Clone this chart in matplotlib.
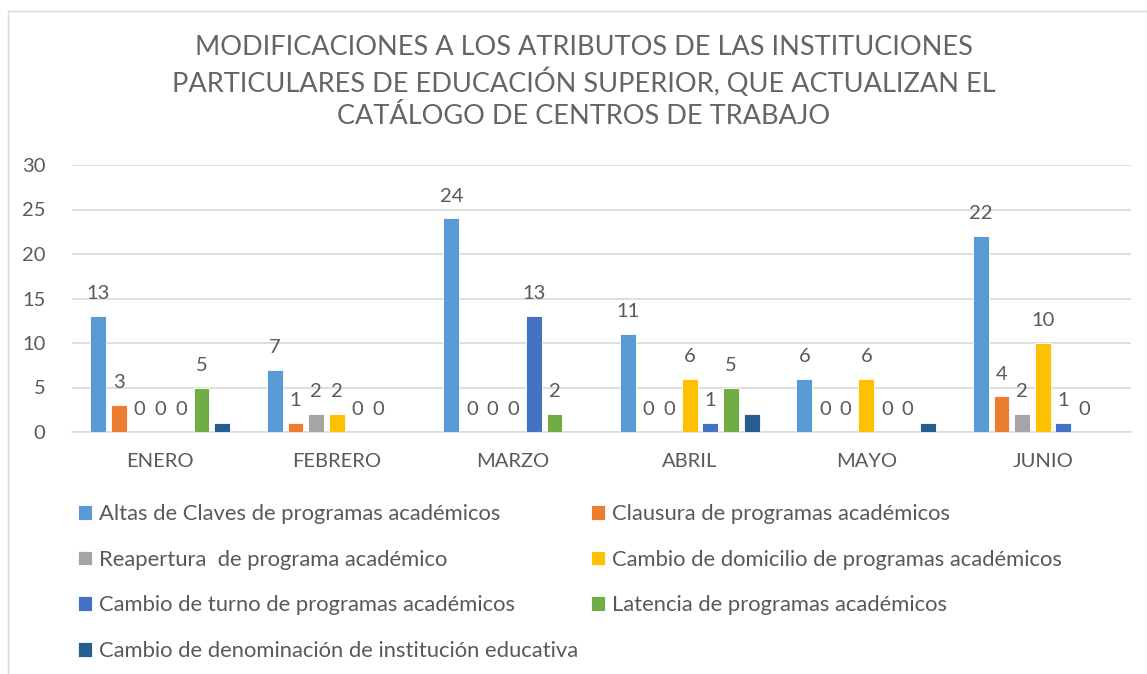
import matplotlib
matplotlib.use("Agg")
import matplotlib.pyplot as plt
import numpy as np
from matplotlib.patches import Rectangle

months = ["ENERO", "FEBRERO", "MARZO", "ABRIL", "MAYO", "JUNIO"]
series_names = [
    "Altas de Claves de programas académicos",
    "Clausura de programas académicos",
    "Reapertura  de programa académico",
    "Cambio de domicilio de programas académicos",
    "Cambio de turno de programas académicos",
    "Latencia de programas académicos",
    "Cambio de denominación de institución educativa",
]
altas = [13, 7, 24, 11, 6, 22]
clausura = [3, 1, 0, 0, 0, 4]
reapertura = [0, 2, 0, 0, 0, 2]
domicilio = [0, 2, 0, 6, 6, 10]
turno = [0, 0, 13, 1, 0, 1]
latencia = [5, 0, 2, 5, 0, 0]
denominacion = [1, 0, 0, 2, 1, 0]
values = [altas, clausura, reapertura, domicilio, turno, latencia, denominacion]
labeled = [True, True, True, True, True, True, False]
colors = ["#5B9BD5", "#ED7D31", "#A5A5A5", "#FFC000", "#4472C4", "#70AD47", "#255E91"]
yticks = [0, 5, 10, 15, 20, 25, 30]

TXT = "#595959"
FONT = "Lato"
plt.rcParams["font.family"] = [FONT, "DejaVu Sans"]

W, H = 1147, 674
fig = plt.figure(figsize=(W / 100, H / 100), dpi=100)

# chart border
fig.add_artist(Rectangle((8 / W, -0.05), 1.2, 1 - 11 / H + 0.05, transform=fig.transFigure,
                         fill=False, edgecolor="#D9D9D9", linewidth=1))

ax = fig.add_axes([72 / W, 1 - 432 / H, (1131 - 72) / W, (432 - 165) / H])
x = np.arange(len(months))
pitch = 0.117
bw = 0.09
handles = []
for j, (vals, col) in enumerate(zip(values, colors)):
    bars = ax.bar(x + (j - 3) * pitch, vals, width=bw, color=col, edgecolor="white",
                  linewidth=0.6, zorder=3, label=series_names[j])
    handles.append(bars)
    if labeled[j]:
        ax.bar_label(bars, padding=10, fontsize=14.5, color=TXT)

ax.set_xlim(-0.5, len(months) - 0.5)
ax.set_ylim(0, 30)
ax.set_yticks(yticks)
ax.set_xticks(x)
ax.set_xticklabels(months, fontsize=14.5, color=TXT)
ax.tick_params(axis="both", length=0, labelsize=14.5, labelcolor=TXT)
ax.tick_params(axis="y", pad=19)
ax.tick_params(axis="x", pad=15)
ax.grid(axis="y", color="#D9D9D9", linewidth=1.2, zorder=0)
for s in ["top", "right", "left"]:
    ax.spines[s].set_visible(False)
ax.spines["bottom"].set_color("#D9D9D9")
ax.spines["bottom"].set_linewidth(1.2)

fig.text(584 / W, 1 - 82 / H,
         "MODIFICACIONES A LOS ATRIBUTOS DE LAS INSTITUCIONES\n"
         "PARTICULARES DE EDUCACIÓN SUPERIOR, QUE ACTUALIZAN EL\n"
         "CATÁLOGO DE CENTROS DE TRABAJO",
         ha="center", va="center", fontsize=19.5, color="#656565", fontweight="normal",
         linespacing=1.33)

leg_kw = dict(frameon=False, fontsize=15.8, labelcolor=TXT, handlelength=0.65,
              handleheight=0.65, handletextpad=0.32, labelspacing=1.17,
              borderpad=0, borderaxespad=0, loc="upper left")
col1 = [0, 2, 4, 6]
col2 = [1, 3, 5]
leg1 = fig.legend([handles[i] for i in col1], [series_names[i] for i in col1],
                  bbox_to_anchor=(78 / W, 1 - 504 / H), **leg_kw)
leg2 = fig.legend([handles[i] for i in col2], [series_names[i] for i in col2],
                  bbox_to_anchor=(591 / W, 1 - 504 / H), **leg_kw)

fig.savefig("out.png", dpi=100)
